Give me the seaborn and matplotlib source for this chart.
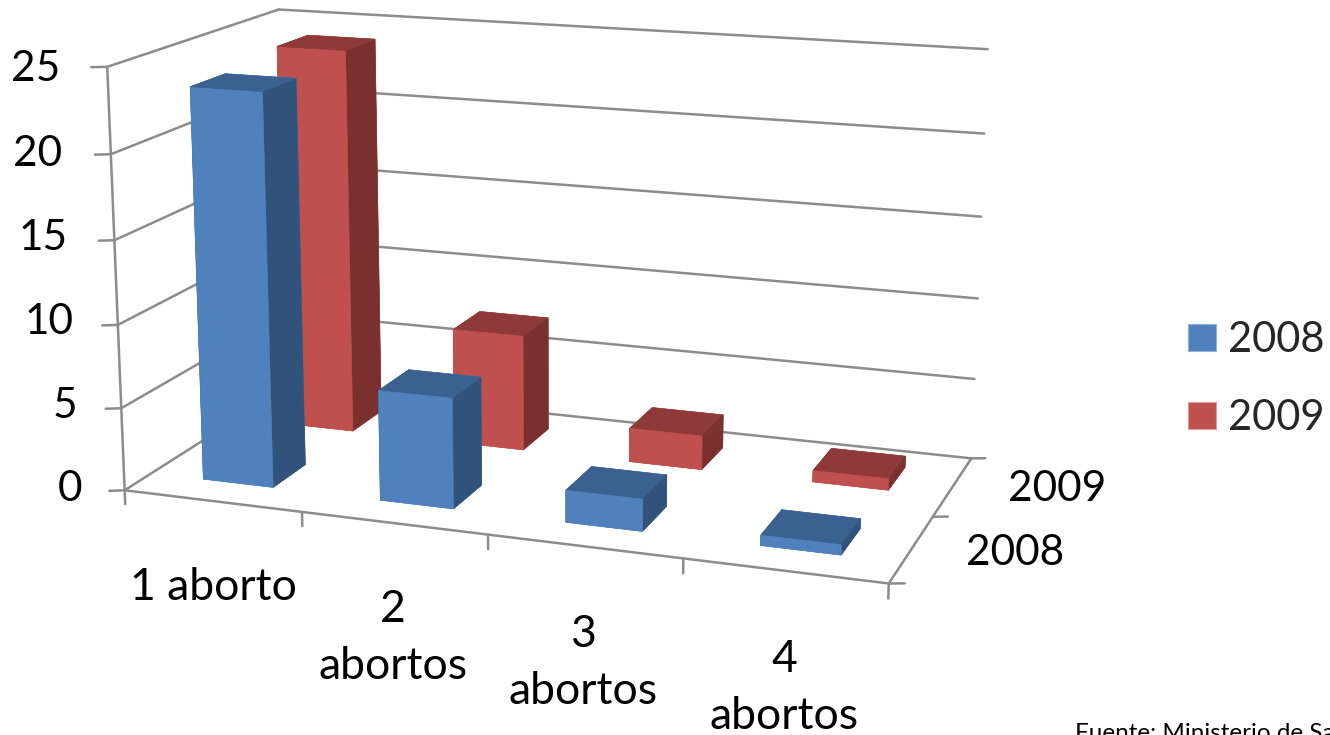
import seaborn as sns
import matplotlib
matplotlib.use("Agg")
import matplotlib.pyplot as plt
from matplotlib.patches import Patch

categories = ["1 aborto", "2\nabortos", "3\nabortos", "4\nabortos"]
series = ["2008", "2009"]
values_2008 = [23.5, 6.6, 1.9, 0.6]
values_2009 = [24.0, 7.2, 2.1, 0.7]
z_ticks = [0, 5, 10, 15, 20, 25]

sns.set_style("white")
plt.rcParams["font.family"] = ["Lato", "DejaVu Sans"]

W, H = 1330, 735
front = sns.color_palette(["#4F81BD", "#C0504D"])
top = sns.color_palette(["#3A6190", "#8E3A38"])
side = sns.color_palette(["#31527A", "#7A302E"])
line_col = "#8C8C8C"

fig = plt.figure(figsize=(W / 100, H / 100), dpi=100)
S = 940.8
ax = fig.add_axes([72.5 / W, -18.1 / H, S / W, S / H], projection="3d")
ax.set_xmargin(0)
ax.set_ymargin(0)
ax.set_zmargin(0)
ax.set_xlim(0, 4)
ax.set_ylim(0, 2)
ax.set_zlim(0, 25)
ax.view_init(elev=14.2, azim=-70.43)
ax.set_proj_type("persp", focal_length=0.532)
ax.set_box_aspect((4, 1.979, 2.204))
ax.set_axis_off()
ax.computed_zorder = False


def line(xs, ys, zs):
    ax.plot(xs, ys, zs, color=line_col, lw=1.8, zorder=1, solid_capstyle="round")


# walls
for z in z_ticks:
    line([0, 0], [0, 2], [z, z])
    line([0, 4], [2, 2], [z, z])
    line([0, -0.07], [0, -0.035], [z, z])
line([0, 0], [0, 0], [0, 25])
line([0, 4], [0, 0], [0, 0])
line([4, 4], [0, 2], [0, 0])
for i in range(5):
    line([i, i], [0, 0], [0, -0.85])
for j in range(3):
    line([4, 4.07], [j, j + 0.027], [0, 0])

# bars, back row first so the front row covers it
width = 0.4
row_center = [0.5, 1.53]
z_order = 2
for row, vals in reversed(list(enumerate([values_2008, values_2009]))):
    for i, v in enumerate(vals):
        # faces: bottom, top, front, back, left, right
        cols = [front[row], top[row], front[row], front[row], side[row], side[row]]
        ax.bar3d(i + 0.5 - width / 2, row_center[row] - width / 2, 0, width, width, v,
                 color=cols, edgecolors=cols, shade=False, linewidth=0.4, zorder=z_order)
        z_order += 1


def label(x, y, s, ha="center", va="center", size=30.5, spacing=1.2):
    fig.text(x / W, 1 - y / H, s, ha=ha, va=va, fontsize=size, linespacing=spacing, color="black")


for z, x, y in zip(z_ticks, [82, 77, 74, 68, 62, 60], [489, 406, 322, 238, 154, 69]):
    label(x, y, str(z), ha="right")

label(213, 587, categories[0], size=32)
for txt, x, y in zip(categories[1:], [393, 583, 784], [638, 663, 688]):
    label(x, y, txt, size=32, spacing=1.5)

label(1057, 489, series[1])
label(1015, 553, series[0])
label(1075, 723, "Fuente: Ministerio de Salud", ha="left", va="top", size=17.5)

handles = [Patch(facecolor=front[0], edgecolor="#8FB0DA", lw=0.8),
           Patch(facecolor=front[1], edgecolor="#E09A98", lw=0.8)]
fig.legend(handles, series, loc="center left", bbox_to_anchor=(1188 / W, 1 - 379 / H),
           frameon=False, fontsize=30, handlelength=0.67, handleheight=0.62,
           handletextpad=0.3, labelspacing=0.95, borderpad=0, borderaxespad=0)

fig.savefig("out.png", dpi=100)
